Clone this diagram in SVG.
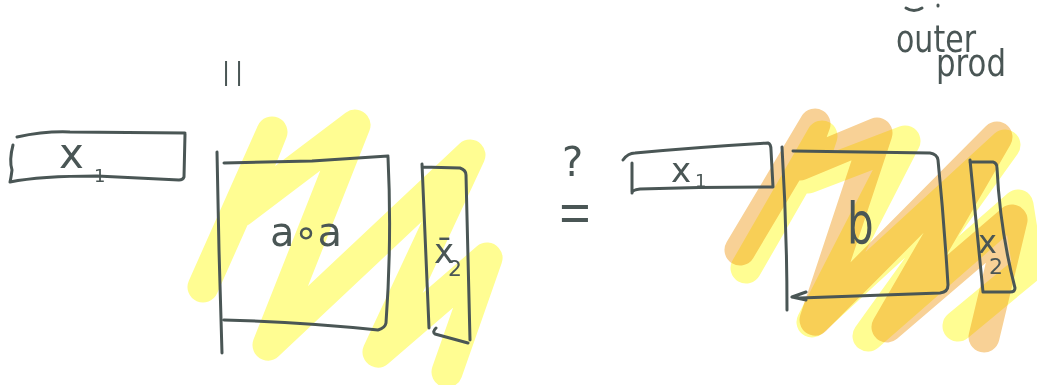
<svg xmlns="http://www.w3.org/2000/svg" width="1037" height="385" viewBox="0 0 1037 385">
<style>
.ink{fill:none;stroke:#4a5655;stroke-width:3;stroke-linecap:round;stroke-linejoin:round}
.t{fill:#4a5655;font-family:"DejaVu Sans","Liberation Sans",sans-serif}
.hl{fill:none;stroke-linecap:round;stroke-linejoin:round;stroke-width:31}
.yel{stroke:#fffd92}
.pch{stroke:#f8d196}
.mul{mix-blend-mode:multiply}
</style>
<rect width="1037" height="385" fill="#ffffff"/>
<g id="highlight-left">
<path class="hl yel" d="M203,287 L272,132 L240,212 L355,125 L268,345 L470,155 L378,352 L487,258 L447,372"/>
</g>
<g id="highlight-right">
<path class="hl pch" d="M740,250 L815,124 L800,165 L877,133 L815,320 L997,137 L887,327 L1012,220 L984,337"/>
<path class="hl yel mul" d="M746,268 L822,136 L808,178 L905,141 L812,322 L1005,145 L868,336 L1018,205 L1028,268 L958,326"/>
</g>
<g id="x1-left">
<path class="ink" d="M17,137 Q45,131 70,132 L185,133 M185,134 L184,177 Q183,180 179,180 L97,176 Q40,176 10,182 M13,145 Q9,160 12,170 Q11,178 10,182"/>
<text class="t" x="59" y="168" font-size="42">x<tspan x="94" y="182" font-size="18">1</tspan></text>
</g>
<g id="bars-top">
<text class="t" x="222" y="80" font-size="24" letter-spacing="5">||</text>
</g>
<g id="a-circ-a">
<path class="ink" d="M217,152 L219,250 L222,353 M224,163 L312,161 L388,156 M388,157 Q392,240 386,323 Q385,328 378,330 M224,320 Q300,322 378,330"/>
<text class="t" x="270" y="246" font-size="40" textLength="72">a∘a</text>
</g>
<g id="x2bar">
<path class="ink" d="M422,164 L429,328 M422,167 L460,168 Q466,170 466,175 L470,340 M436,328 Q432,332 435,334 L468,343"/>
<text class="t" x="434" y="263" font-size="34">x̄<tspan x="448" y="276" font-size="22">2</tspan></text>
</g>
<g id="equals-question">
<text class="t"><tspan x="562" y="176" font-size="40">?</tspan><tspan x="554" y="232" font-size="64" font-weight="300" font-family="Inter,sans-serif">=</tspan></text>
</g>
<g id="x1-right">
<path class="ink" d="M623,160 Q628,153 635,153 Q700,147 768,143 Q771,144 771,150 L773,187 Q700,187 640,189 Q632,190 632,193 M632,163 L632,192"/>
<text class="t" x="671" y="182" font-size="34">x<tspan x="695" y="187" font-size="18">1</tspan></text>
</g>
<g id="b-matrix">
<path class="ink" d="M782,147 Q787,230 787,310 M793,151 L930,153 Q937,154 938,160 Q944,220 948,285 Q948,292 940,293 L800,298 Q794,298 792,297 M806,292 L792,297 L806,300"/>
<text class="t" font-size="60" transform="translate(847,243) scale(0.7,0.95)">b</text>
</g>
<g id="x2-right">
<path class="ink" d="M970,160 L983,292 M970,162 L993,162 Q997,163 997,168 Q1000,230 1015,288 Q1015,292 1010,292 L983,292"/>
<text class="t" x="978" y="253" font-size="32">x<tspan x="989" y="274" font-size="22">2</tspan></text>
</g>
<g id="outer-prod">
<path class="ink" d="M906,8 Q914,13 922,8 M938,5 L938,6"/>
<text class="t"><tspan x="896" y="52" font-size="38" textLength="80" lengthAdjust="spacingAndGlyphs">outer</tspan><tspan x="936" y="76" font-size="38" textLength="70" lengthAdjust="spacingAndGlyphs">prod</tspan></text>
</g>
<g id="connectors"/>
</svg>
